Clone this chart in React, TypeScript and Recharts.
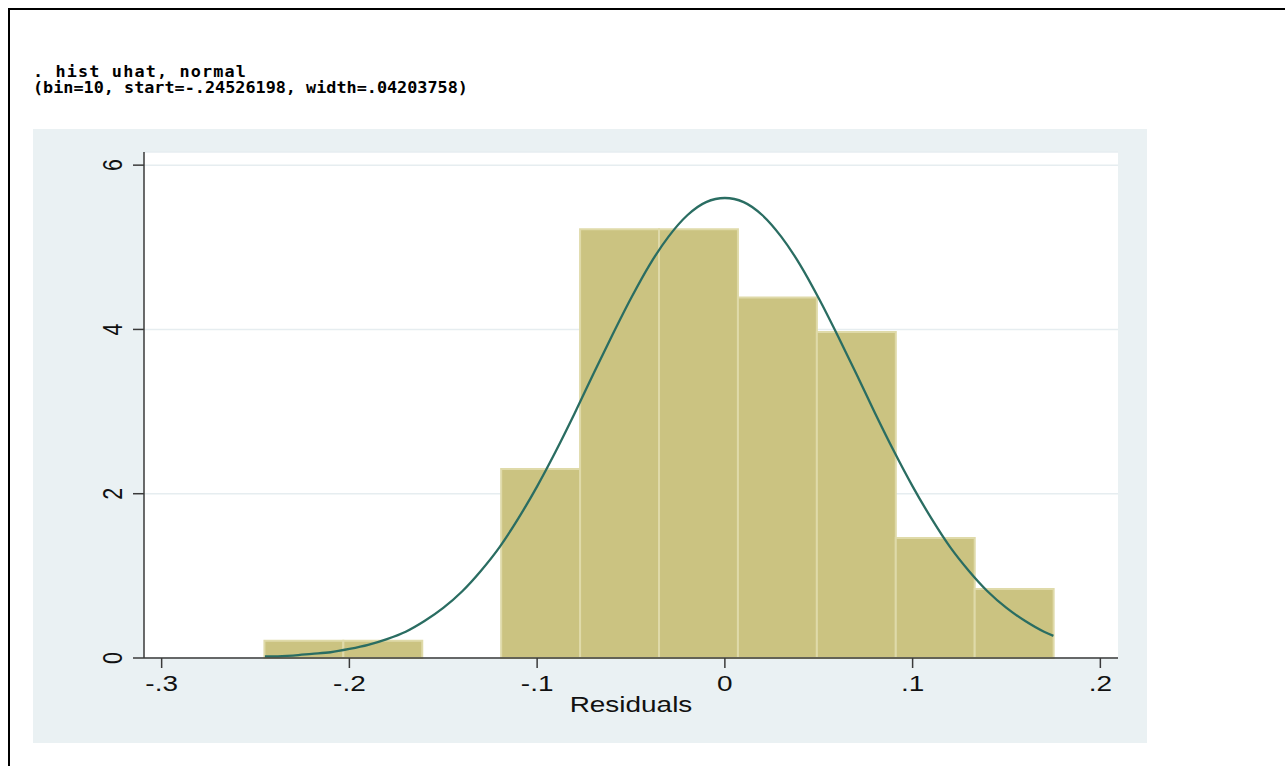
import React from 'react';
import {
  CartesianGrid,
  ComposedChart,
  Line,
  ReferenceArea,
  XAxis,
  YAxis,
} from 'recharts';

// histogram bins (start=-.24526198, width=.04203758, bin=10)
const binEdges = [
  -0.24526, -0.20322, -0.16119, -0.11915, -0.07711, -0.03507, 0.00696, 0.049, 0.09104, 0.13308,
  0.17512,
];
const binDensity = [0.21, 0.21, 0, 2.3, 5.22, 5.22, 4.39, 3.97, 1.46, 0.84];

// normal density overlay
const curveX = [
  -0.245, -0.24, -0.23, -0.22, -0.21, -0.2, -0.19, -0.18, -0.17, -0.16, -0.15, -0.14, -0.13, -0.12,
  -0.11, -0.1, -0.09, -0.08, -0.07, -0.06, -0.05, -0.04, -0.03, -0.02, -0.01, 0, 0.01, 0.02, 0.03,
  0.04, 0.05, 0.06, 0.07, 0.08, 0.09, 0.1, 0.11, 0.12, 0.13, 0.14, 0.15, 0.16, 0.17, 0.175,
];
const curveY = [
  0.02, 0.02, 0.03, 0.05, 0.07, 0.11, 0.16, 0.23, 0.32, 0.45, 0.61, 0.81, 1.06, 1.35, 1.7, 2.09,
  2.52, 2.98, 3.46, 3.93, 4.38, 4.79, 5.13, 5.39, 5.55, 5.6, 5.55, 5.39, 5.13, 4.79, 4.38, 3.93,
  3.46, 2.98, 2.52, 2.09, 1.7, 1.35, 1.06, 0.81, 0.61, 0.45, 0.32, 0.27,
];

const xTicks = [-0.3, -0.2, -0.1, 0, 0.1, 0.2];
const yTicks = [0, 2, 4, 6];

const curveData = curveX.map((x, i) => ({ x, d: curveY[i] }));

const LABEL_FONT = '"Liberation Sans", Arial, sans-serif';

// stata style: -.3, 0, .1
const fmtTick = (v: number): string => {
  if (v === 0) return '0';
  const s = String(Math.abs(v)).replace(/^0/, '');
  return v < 0 ? '-' + s : s;
};

const XTick = (props: any) => {
  const { x, y, payload } = props;
  return (
    <g transform={`translate(${x},${y + 21}) scale(1.3,1)`}>
      <text textAnchor="middle" fontSize={21.5} fontFamily={LABEL_FONT} fill="#111">
        {fmtTick(payload.value)}
      </text>
    </g>
  );
};

const YTick = (props: any) => {
  const { x, y, payload } = props;
  return (
    <g transform={`translate(${x - 9.5},${y}) scale(1.3,1) rotate(-90)`}>
      <text textAnchor="middle" fontSize={21.5} fontFamily={LABEL_FONT} fill="#111">
        {fmtTick(payload.value)}
      </text>
    </g>
  );
};

const XLabel = (props: any) => {
  const vb = props.viewBox || { x: 111, y: 529, width: 974, height: 85 };
  return (
    <g transform={`translate(${vb.x + vb.width / 2},${vb.y + 54}) scale(1.3,1)`}>
      <text textAnchor="middle" fontSize={21.5} fontFamily={LABEL_FONT} fill="#111">
        Residuals
      </text>
    </g>
  );
};

const headerStyle: React.CSSProperties = {
  position: 'absolute',
  left: 33,
  fontFamily: '"DejaVu Sans Mono", monospace',
  fontWeight: 'bold',
  fontSize: 14,
  lineHeight: '15px',
  whiteSpace: 'pre',
  color: '#000',
  transform: 'scale(1.2, 1.08)',
  transformOrigin: '0 0',
};

export default function App() {
  return (
    <div
      style={{
        position: 'absolute',
        left: 0,
        top: 0,
        width: 1285,
        height: 766,
        background: '#fff',
        overflow: 'hidden',
      }}
    >
      {/* results window frame */}
      <div
        style={{
          position: 'absolute',
          left: 8,
          top: 8,
          width: 1290,
          height: 770,
          borderTop: '2px solid #000',
          borderLeft: '2px solid #000',
        }}
      />
      <div style={{ ...headerStyle, top: 63.5, letterSpacing: 0.96 }}>{'. hist uhat, normal'}</div>
      <div style={{ ...headerStyle, top: 80 }}>{'(bin=10, start=-.24526198, width=.04203758)'}</div>

      <div
        style={{
          position: 'absolute',
          left: 33,
          top: 129,
          width: 1114,
          height: 614,
          background: '#eaf1f3',
        }}
      >
        <ComposedChart
          width={1114}
          height={614}
          data={curveData}
          margin={{ top: 23, right: 29, bottom: 0, left: 0 }}
        >
          <CartesianGrid vertical={false} stroke="#e6edf0" strokeWidth={1.5} fill="#ffffff" />
          <XAxis
            dataKey="x"
            type="number"
            domain={[-0.3094, 0.2094]}
            ticks={xTicks}
            allowDataOverflow
            height={85}
            tickSize={10}
            stroke="#3a3a3a"
            strokeWidth={1.5}
            tick={<XTick />}
            label={<XLabel />}
          />
          <YAxis
            type="number"
            domain={[0, 6.16]}
            ticks={yTicks}
            allowDataOverflow
            width={111}
            tickSize={11}
            stroke="#3a3a3a"
            strokeWidth={1.5}
            tick={<YTick />}
          />
          {binDensity.map((h, i) =>
            h > 0 ? (
              <ReferenceArea
                key={i}
                x1={binEdges[i]}
                x2={binEdges[i + 1]}
                y1={0}
                y2={h}
                fill="#cbc381"
                fillOpacity={1}
                stroke="#dfdaa9"
                strokeWidth={2}
              />
            ) : null
          )}
          <Line
            dataKey="d"
            type="monotone"
            stroke="#2a6d62"
            strokeWidth={2.3}
            dot={false}
            activeDot={false}
            isAnimationActive={false}
          />
        </ComposedChart>
      </div>
    </div>
  );
}
